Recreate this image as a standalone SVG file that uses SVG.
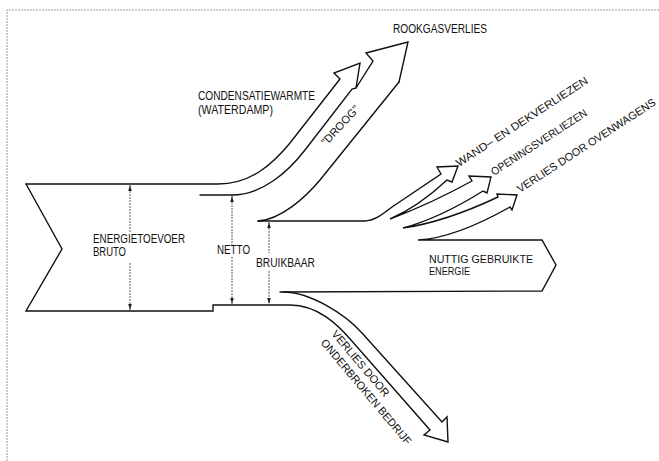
<svg xmlns="http://www.w3.org/2000/svg" width="659" height="461" viewBox="0 0 659 461">
<defs>
<marker id="ah" viewBox="0 0 6 6" refX="6" refY="3" markerWidth="6" markerHeight="6" markerUnits="userSpaceOnUse" orient="auto-start-reverse"><path d="M0,1.2 L6,3 L0,4.8 z" fill="#222"/></marker>
</defs>
<style>
.ln{fill:none;stroke:#111;stroke-width:1.4;stroke-linejoin:miter;stroke-linecap:round}
.dim{fill:none;stroke:#333;stroke-width:0.8;stroke-dasharray:2 1}
.t{font-family:"Liberation Sans",Arial,sans-serif;font-size:12px;fill:#111}
.s{font-size:11px}
.frame{fill:none;stroke:#999;stroke-width:1;stroke-dasharray:2 1}
</style>
<rect width="659" height="461" fill="#fff"/>
<path class="frame" d="M7,461 L7,10 L659,10"/>

<g id="connectors">
  <path id="flow-top" class="ln" d="M26,184 L218,184 C250,184 272,165 290,143 L340,79 L334,73 L360,63 L356,88 L373,61 L366,53 L408,42 L399,82"/>
  <path id="flow-middle" class="ln" d="M200,195 L232,195 C262,195 288,172 305,150 L352,89 L356,88"/>
  <path id="flow-droog" class="ln" d="M258,221 C280,220 305,198 320,180 L399,82"/>
  <path id="flow-bruikbaar" class="ln" d="M258,221 L365,221 C375,221 384,213 392,207 L441,174 L437,167 L458,166 L452,182 L447,180 Q418,207 390,219 Q430,204 472,181 L469,176 L491,177 L487,193 L483,191 Q440,218 403,228 Q445,222 498,197 L497,194 L517,195 L512,210 L510,207 Q455,238 418,240 L542,240 L556,265 L542,291 L280,292"/>
  <path id="flow-onderbroken" class="ln" d="M283,292 C310,292 345,314 362,333 L442,422 L447,417 L448,442 L424,435 L430,430 L351,340 C338,325 318,305 290,305 L213,305 L213,311 L26,311 L62,249 L26,184"/>
  <path class="dim" d="M130,185 L130,233" marker-start="url(#ah)"/>
  <path class="dim" d="M130,263 L130,310" marker-end="url(#ah)"/>
  <path class="dim" d="M232,196 L232,245" marker-start="url(#ah)"/>
  <path class="dim" d="M232,257 L232,304" marker-end="url(#ah)"/>
  <path class="dim" d="M269,222 L269,253" marker-start="url(#ah)"/>
  <path class="dim" d="M269,271 L269,304" marker-end="url(#ah)"/>
</g>

<g id="node-bruto">
  <text class="t" x="93" y="243" textLength="92" lengthAdjust="spacingAndGlyphs">ENERGIETOEVOER</text>
  <text class="t" x="93" y="256" textLength="33" lengthAdjust="spacingAndGlyphs">BRUTO</text>
</g>
<g id="node-netto">
  <text class="t" x="217" y="254" textLength="33" lengthAdjust="spacingAndGlyphs">NETTO</text>
</g>
<g id="node-bruikbaar">
  <text class="t" x="256" y="267" textLength="59" lengthAdjust="spacingAndGlyphs">BRUIKBAAR</text>
</g>
<g id="node-condensatie">
  <text class="t" x="198" y="100" textLength="117" lengthAdjust="spacingAndGlyphs">CONDENSATIEWARMTE</text>
  <text class="t" x="198" y="114" textLength="75" lengthAdjust="spacingAndGlyphs">(WATERDAMP)</text>
</g>
<g id="node-rookgas">
  <text class="t" x="393" y="33" textLength="94" lengthAdjust="spacingAndGlyphs">ROOKGASVERLIES</text>
</g>
<g id="node-droog">
  <text class="t s" transform="translate(343,128) rotate(-47)" x="0" y="0" text-anchor="middle" textLength="50" lengthAdjust="spacingAndGlyphs">"DROOG"</text>
</g>
<g id="node-wand">
  <text class="t s" transform="translate(459,167) rotate(-33)" textLength="155" lengthAdjust="spacingAndGlyphs">WAND–  EN  DEKVERLIEZEN</text>
</g>
<g id="node-openingen">
  <text class="t s" transform="translate(494,176) rotate(-33)" textLength="112" lengthAdjust="spacingAndGlyphs">OPENINGSVERLIEZEN</text>
</g>
<g id="node-ovenwagens">
  <text class="t s" transform="translate(520,193) rotate(-33)" textLength="163" lengthAdjust="spacingAndGlyphs">VERLIES  DOOR  OVENWAGENS</text>
</g>
<g id="node-nuttig">
  <text class="t s" x="429" y="263" textLength="104" lengthAdjust="spacingAndGlyphs">NUTTIG  GEBRUIKTE</text>
  <text class="t s" x="429" y="275" textLength="41" lengthAdjust="spacingAndGlyphs">ENERGIE</text>
</g>
<g id="node-onderbroken" transform="translate(331,334) rotate(50)">
  <text class="t s" x="0" y="0" textLength="83" lengthAdjust="spacingAndGlyphs">VERLIES  DOOR</text>
  <text class="t s" x="0" y="14" textLength="134" lengthAdjust="spacingAndGlyphs">ONDERBROKEN  BEDRIJF</text>
</g>
</svg>
